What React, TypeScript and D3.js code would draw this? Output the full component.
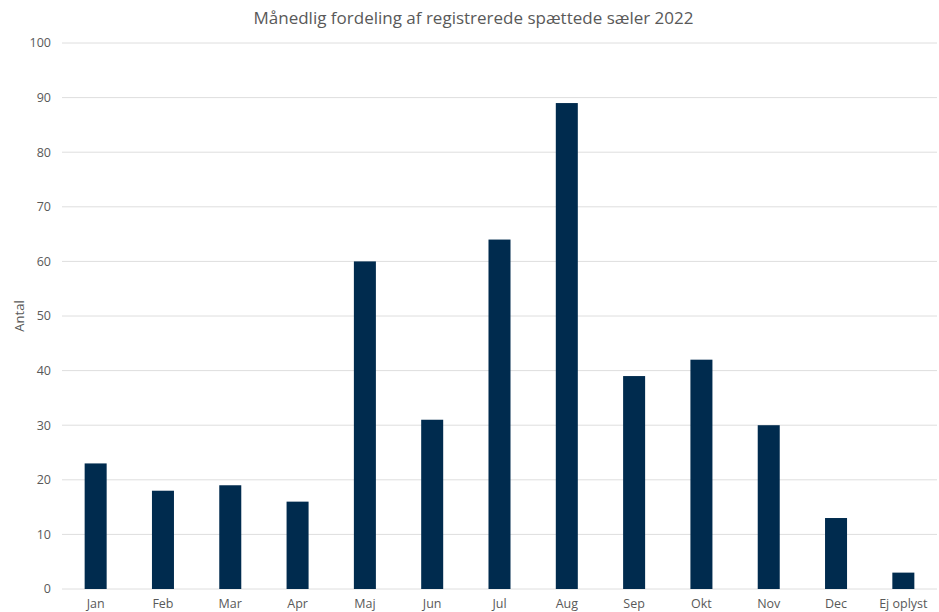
import React from "react";
import * as d3 from "d3";

const categories = ["Jan", "Feb", "Mar", "Apr", "Maj", "Jun", "Jul", "Aug", "Sep", "Okt", "Nov", "Dec", "Ej oplyst"];
const counts = [23, 18, 19, 16, 60, 31, 64, 89, 39, 42, 30, 13, 3];
const yTicks = [0, 10, 20, 30, 40, 50, 60, 70, 80, 90, 100];

const W = 939;
const H = 612;
const margin = { left: 62, right: 2, top: 43, bottom: 23 };
const FONT = "'Open Sans', 'DejaVu Sans', sans-serif";

export default function App() {
  const x = d3
    .scaleBand<string>()
    .domain(categories)
    .range([margin.left, W - margin.right])
    .paddingInner(0.673)
    .paddingOuter(0.3365);
  const y = d3.scaleLinear().domain([0, 100]).range([H - margin.bottom, margin.top]);

  return (
    <svg
      width={W}
      height={H}
      style={{ position: "absolute", left: 0, top: 0, background: "#fff" }}
      fontFamily={FONT}
    >
      <text x={473.5} y={24} textAnchor="middle" fontSize={17} fill="#595959">
        Månedlig fordeling af registrerede spættede sæler 2022
      </text>
      {yTicks.map((t) => (
        <g key={t}>
          <line x1={margin.left} x2={W - margin.right} y1={y(t)} y2={y(t)} stroke="#dedede" strokeWidth={1} />
          <text x={51} y={y(t)} dy="0.35em" textAnchor="end" fontSize={12.5} fill="#595959">
            {t}
          </text>
        </g>
      ))}
      <text
        transform={`translate(24,${(y(0) + y(100)) / 2}) rotate(-90)`}
        textAnchor="middle"
        fontSize={13}
        fill="#595959"
      >
        Antal
      </text>
      {categories.map((c, i) => (
        <rect
          key={c}
          x={x(c)}
          y={y(counts[i])}
          width={x.bandwidth()}
          height={y(0) - y(counts[i])}
          fill="#002b4e"
        />
      ))}
      {categories.map((c) => (
        <text
          key={c}
          x={(x(c) as number) + x.bandwidth() / 2}
          y={y(0) + 19}
          textAnchor="middle"
          fontSize={12.5}
          fill="#595959"
        >
          {c}
        </text>
      ))}
    </svg>
  );
}
